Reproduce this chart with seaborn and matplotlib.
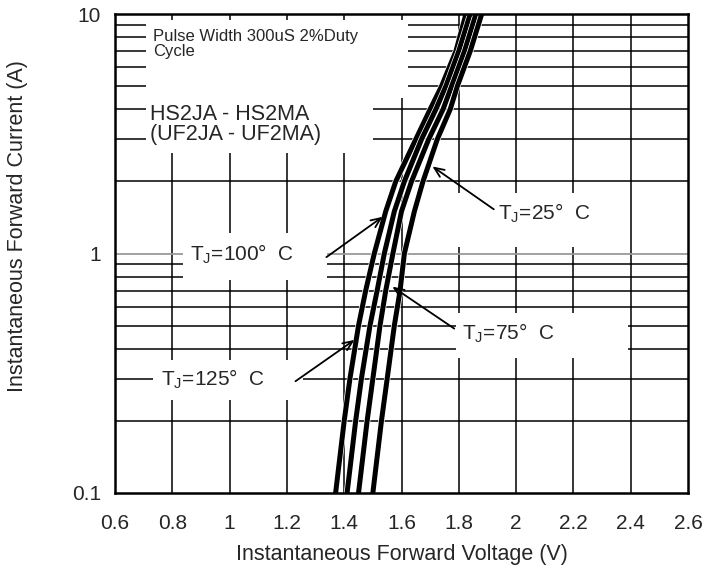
import numpy as np
import pandas as pd
import matplotlib
matplotlib.use("Agg")
import matplotlib.pyplot as plt
import matplotlib.patheffects as pe
from matplotlib.patches import Rectangle
import seaborn as sns

# Corriente (A) y tension directa (V)
corriente = [0.1, 0.2, 0.3, 0.5, 0.7, 1, 1.5, 2, 3, 4, 5, 7, 10]
v_125 = [1.37, 1.40, 1.42, 1.45, 1.475, 1.505, 1.545, 1.58, 1.65, 1.70, 1.74, 1.79, 1.825]
v_100 = [1.41, 1.44, 1.46, 1.49, 1.515, 1.54, 1.575, 1.61, 1.67, 1.72, 1.755, 1.80, 1.84]
v_75 = [1.45, 1.48, 1.50, 1.525, 1.545, 1.57, 1.60, 1.635, 1.695, 1.745, 1.775, 1.82, 1.86]
v_25 = [1.50, 1.53, 1.55, 1.575, 1.595, 1.61, 1.645, 1.675, 1.725, 1.77, 1.795, 1.84, 1.88]
temperaturas = ["125", "100", "75", "25"]

x_ticks = [0.6, 0.8, 1, 1.2, 1.4, 1.6, 1.8, 2, 2.2, 2.4, 2.6]
y_ticks = [0.1, 1, 10]
y_grid = [0.2, 0.3, 0.4, 0.5, 0.6, 0.7, 0.8, 0.9, 2, 3, 4, 5, 6, 7, 8, 9]

df = pd.concat([
    pd.DataFrame({"I": corriente, "V": v, "T": t})
    for v, t in zip([v_125, v_100, v_75, v_25], temperaturas)
])

sns.set_style("white")
plt.rcParams["font.family"] = ["Liberation Sans", "DejaVu Sans"]
plt.rcParams["mathtext.fontset"] = "custom"
plt.rcParams["mathtext.rm"] = "Liberation Sans"

fig = plt.figure(figsize=(7.21, 5.67), dpi=100)
ax = fig.add_axes([115 / 721, 74 / 567, 573 / 721, 479 / 567])
ax.set_yscale("log")
ax.set_xlim(0.6, 2.6)
ax.set_ylim(0.1, 10)

# rejilla
for xv in x_ticks[1:-1]:
    ax.axvline(xv, color="black", lw=1.1, zorder=1)
for yv in y_grid:
    ax.axhline(yv, color="black", lw=1.1, zorder=1)
ax.axhline(1, color="#9a9a9a", lw=1.3, zorder=1)

# cajas blancas de las etiquetas (fraccion de ejes)
cajas = [
    (0.054, 0.825, 0.457, 0.162),
    (0.054, 0.710, 0.396, 0.115),
    (0.576, 0.514, 0.279, 0.112),
    (0.119, 0.445, 0.251, 0.098),
    (0.595, 0.282, 0.300, 0.094),
    (0.066, 0.194, 0.262, 0.084),
]
for x0, y0, w, h in cajas:
    ax.add_patch(Rectangle((x0, y0), w, h, transform=ax.transAxes,
                           facecolor="white", edgecolor="none", zorder=2))

sns.lineplot(data=df, x="V", y="I", hue="T", palette=["black"] * 4,
             estimator=None, sort=False, lw=3.6, legend=False, ax=ax, zorder=5,
             path_effects=[pe.Stroke(linewidth=4.6, foreground="white"), pe.Normal()])

ax.text(0.066, 0.968, "Pulse Width 300uS 2%Duty\nCycle", transform=ax.transAxes,
        fontsize=12, va="top", ha="left", linespacing=1.0, zorder=6)
ax.text(0.061, 0.813, "HS2JA - HS2MA\n(UF2JA - UF2MA)", transform=ax.transAxes,
        fontsize=15.5, va="top", ha="left", linespacing=0.95, zorder=6)

etiquetas = [
    ("25", (0.668, 0.585), (0.550, 0.685), (0.665, 0.589)),
    ("75", (0.606, 0.334), (0.480, 0.434), (0.596, 0.340)),
    ("100", (0.131, 0.499), (0.471, 0.580), (0.365, 0.489)),
    ("125", (0.080, 0.238), (0.422, 0.323), (0.311, 0.230)),
]
for t, pos, punta, cola in etiquetas:
    ax.text(pos[0], pos[1], "T$_\\mathregular{J}$=" + t + "°  C", transform=ax.transAxes,
            fontsize=15, va="center", ha="left", zorder=6)
    ax.annotate("", xy=punta, xycoords="axes fraction", xytext=cola, textcoords="axes fraction",
                arrowprops=dict(arrowstyle="->,head_length=0.7,head_width=0.3", color="black", lw=1.3),
                zorder=6)

ax.set_xticks(x_ticks)
ax.set_xticklabels(["0.6", "0.8", "1", "1.2", "1.4", "1.6", "1.8", "2", "2.2", "2.4", "2.6"])
ax.set_yticks(y_ticks)
ax.set_yticklabels(["0.1", "1", "10"])
ax.yaxis.set_minor_locator(matplotlib.ticker.NullLocator())
ax.tick_params(axis="both", length=0, labelsize=15)
ax.tick_params(axis="x", pad=15)
ax.tick_params(axis="y", pad=10)
ax.set_xlabel("Instantaneous Forward Voltage (V)", fontsize=15.5, labelpad=8)
ax.set_ylabel("Instantaneous Forward Current (A)", fontsize=15.5)
ax.yaxis.set_label_coords(-0.152, 0.557)
for s in ax.spines.values():
    s.set_visible(True)
    s.set_color("black")
    s.set_linewidth(1.8)
    s.set_zorder(7)

fig.savefig("out.png", dpi=100)
